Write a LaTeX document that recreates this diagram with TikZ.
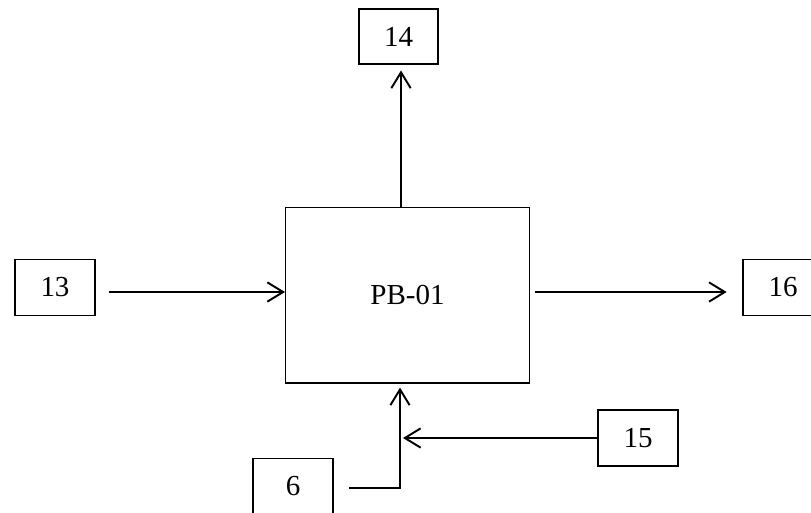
\documentclass[tikz,border=0pt]{standalone}
\usepackage{fontspec}
\setmainfont{Liberation Serif}
\usetikzlibrary{arrows.meta}

\begin{document}
\begin{tikzpicture}[x=0.02cm, y=-0.02cm]
    \tikzset{>={Straight Barb[length=9pt,width=11pt]}}
    \tikzset{box/.style={draw, line width=0.6pt, minimum width=1.6cm, minimum height=1.13cm,
        inner sep=0pt, font=\fontsize{16.5}{19}\selectfont}}
    \tikzset{flow/.style={line width=1.1pt}}
    \useasboundingbox (0,0) rectangle (811,512);
    \clip (0,0) rectangle (811,512);

    \node [box, minimum width=4.88cm, minimum height=3.52cm] (pb) at (407.5,295) {PB-01};
    \node [box, minimum width=1.58cm, minimum height=1.1cm] (s14) at (398.5,36.5) {14};
    \node [box] (s13) at (55,287.5) {13};
    \node [box] (s16) at (783,287.5) {16};
    \node [box, minimum height=1.12cm] (s15) at (638,438) {15};
    \node [box] (s6) at (293,486.5) {6};

    \coordinate (j) at (400,438);
    \coordinate (k) at (400,488);

    \draw [flow,->] (pb.north -| 401,0) -- ([yshift=-3.4pt]s14.south -| 401,0);
    \draw [flow,->] ([xshift=7.4pt]s13.east |- 0,292) -- (pb.west |- 0,292);
    \draw [flow,->] ([xshift=2.8pt]pb.east |- 0,292) -- ([xshift=-9pt]s16.west |- 0,292);
    \draw [flow,->] (s15.west) -- ([xshift=1.7pt]j);
    \draw [flow,->] ([xshift=9pt]s6.east |- k) -- (k) -- ([yshift=-2.3pt]pb.south -| j);
\end{tikzpicture}
\end{document}
